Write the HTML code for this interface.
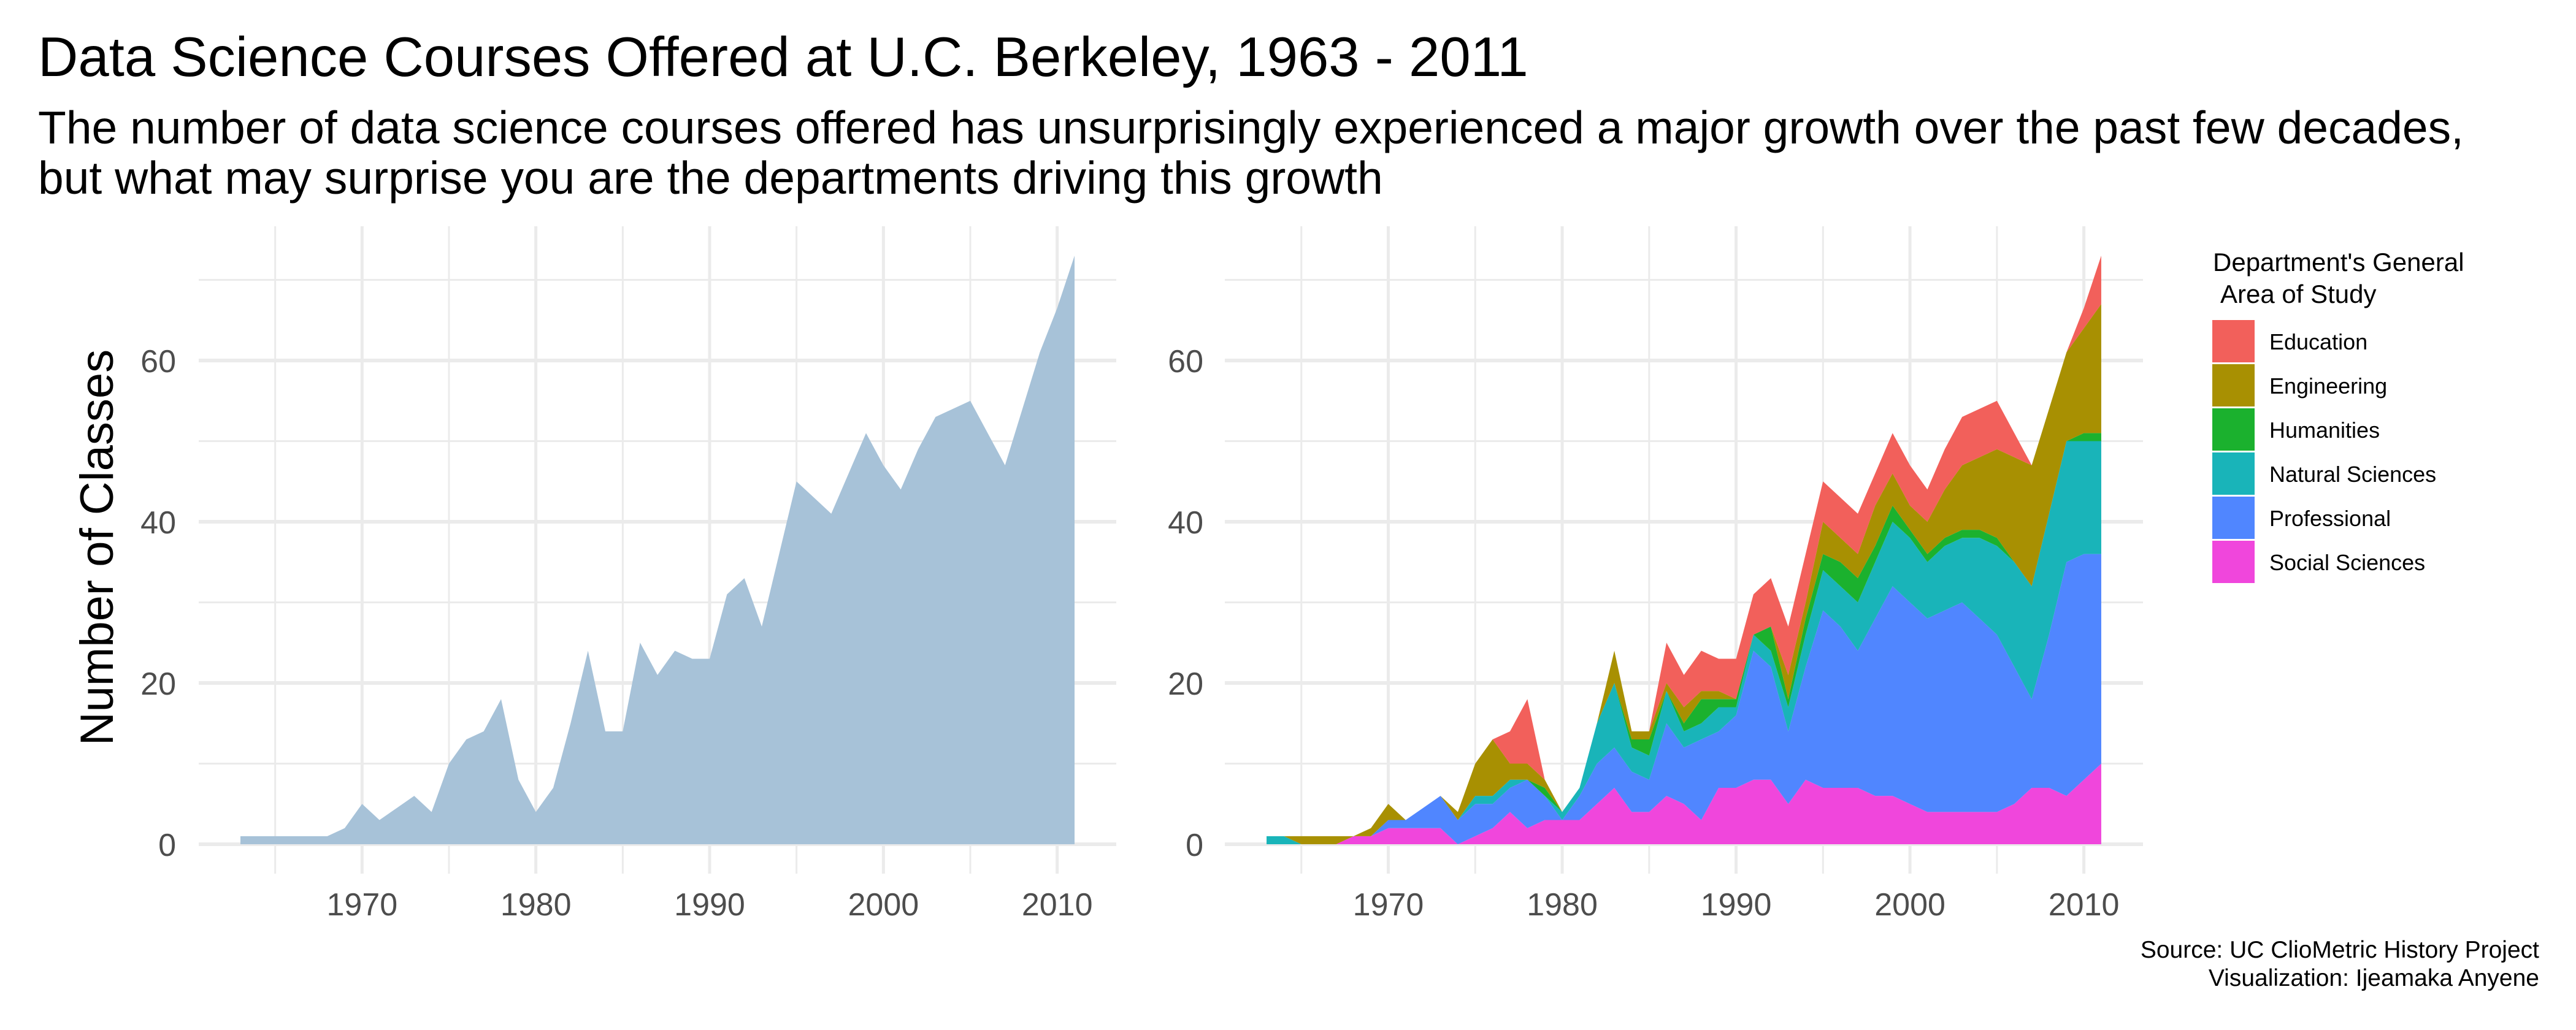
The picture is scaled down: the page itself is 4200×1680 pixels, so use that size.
<!DOCTYPE html>
<html><head><meta charset="utf-8"><style>
html,body{margin:0;padding:0;background:#fff;}
svg{display:block;font-family:"Liberation Sans",Arial,sans-serif;}
</style></head><body>
<svg id="chart" width="4200" height="1680" viewBox="0 0 4200 1680">
<text x="62" y="124" font-size="90.5" fill="#000">Data Science Courses Offered at U.C. Berkeley, 1963 - 2011</text>
<text x="62" y="234" font-size="75" fill="#000">The number of data science courses offered has unsurprisingly experienced a major growth over the past few decades,</text>
<text x="62" y="316" font-size="75" fill="#000">but what may surprise you are the departments driving this growth</text>
<g id="left"></g>
<g id="right"></g>
<text transform="translate(184,893) rotate(-90)" text-anchor="middle" font-size="76" fill="#000">Number of Classes</text>
<g id="legend">
<text x="3608" y="442" font-size="42" fill="#000">Department's General</text>
<text x="3620" y="494" font-size="42" fill="#000">Area of Study</text>
</g>
<text x="4140" y="1562" text-anchor="end" font-size="39" fill="#000">Source: UC ClioMetric History Project</text>
<text x="4140" y="1608" text-anchor="end" font-size="39" fill="#000">Visualization: Ijeamaka Anyene</text>
</svg>
<script>
const years = [1963,1964,1965,1966,1967,1968,1969,1970,1971,1972,1973,1974,1975,1976,1977,1978,1979,1980,1981,1982,1983,1984,1985,1986,1987,1988,1989,1990,1991,1992,1993,1994,1995,1996,1997,1998,1999,2000,2001,2002,2003,2004,2005,2006,2007,2008,2009,2010,2011];
const totals = [1,1,1,1,1,1,2,5,3,4.5,6,4,10,13,14,18,8,4,7,15,24,14,14,25,21,24,23,23,31,33,27,36,45,43,41,46,51,47,44,49,53,54,55,51,47,54,61,66.5,73];
const socialSciences = [0,0,0,0,0,1,1,2,2,2,2,0,1,2,4,2,3,3,3,5,7,4,4,6,5,3,7,7,8,8,5,8,7,7,7,6,6,5,4,4,4,4,4,5,7,7,6,8,10];
const professional   = [0,0,0,0,0,0,0,1,1,2.5,4,3,4,3,3,6,3,0,3,5,5,5,4,9,7,10,7,9,16,14,9,14,22,20,17,22,26,25,24,25,26,24,22,17,11,19,29,28,26];
const naturalSciences= [1,1,0,0,0,0,0,0,0,0,0,0,1,1,1,0,0,1,1,5,8,3,3,4,2,2,3,1,2,2,3,4,5,5,6,7,8,8,7,8,8,10,11,13,14,15,15,14,14];
const humanities     = [0,0,0,0,0,0,0,0,0,0,0,0,0,0,0,0,1,0,0,0,0,1,2,0,1,3,1,1,0,3,1,2,2,3,3,2,2,1,1,1,1,1,1,0,0,0,0,1,1];
const engineering    = [0,0,1,1,1,0,1,2,0,0,0,1,4,7,2,2,1,0,0,0,4,1,1,1,2,1,1,0,0,0,3,2,4,3,3,5,4,3,4,6,8,9,11,13,15,13,11,13,16];
const education      = [0,0,0,0,0,0,0,0,0,0,0,0,0,0,4,8,0,0,0,0,0,0,0,5,4,5,4,5,5,6,6,6,5,5,5,4,5,5,4,5,6,6,6,3,0,0,0,2.5,6];
const seriesNames = ["Social Sciences","Professional","Natural Sciences","Humanities","Engineering","Education"];
const seriesColors = ["#F046DC","#5086FF","#19B4B9","#1BB12E","#A89002","#F2605B"];
const yTicks = [0,20,40,60];
const yMinor = [10,30,50,70];
const xTicks = [1970,1980,1990,2000,2010];
const xMinor = [1965,1975,1985,1995,2005];
const legendOrder = ["Education","Engineering","Humanities","Natural Sciences","Professional","Social Sciences"];

const NS="http://www.w3.org/2000/svg";
const yMin=-3.65, yMax=76.65, xMin=1960.6, xMax=2013.4;
const pTop=369, pBot=1425;
function yS(v){return pBot-(v-yMin)/(yMax-yMin)*(pBot-pTop);}
function mk(tag,attrs,parent){const e=document.createElementNS(NS,tag);for(const k in attrs)e.setAttribute(k,attrs[k]);parent.appendChild(e);return e;}

function panel(g,x0,x1,showY,yLabX){
  const xS=y=>x0+(y-xMin)/(xMax-xMin)*(x1-x0);
  yMinor.forEach(v=>{const l=mk('line',{x1:x0,x2:x1,y1:yS(v),y2:yS(v),stroke:'#ebebeb','stroke-width':3},g);
    
    });
  xMinor.forEach(v=>{const l=mk('line',{x1:xS(v),x2:xS(v),y1:pTop,y2:pBot,stroke:'#ebebeb','stroke-width':3},g);
    
    });
  yTicks.forEach(v=>{const l=mk('line',{x1:x0,x2:x1,y1:yS(v),y2:yS(v),stroke:'#ebebeb','stroke-width':6},g);
    
    
    const t=mk('text',{x:yLabX,y:yS(v)+19,'text-anchor':'end','font-size':52,fill:'#4d4d4d'},g);t.textContent=v;
    
    });
  xTicks.forEach(v=>{const l=mk('line',{x1:xS(v),x2:xS(v),y1:pTop,y2:pBot,stroke:'#ebebeb','stroke-width':5},g);
    
    
    const t=mk('text',{x:xS(v),y:1493,'text-anchor':'middle','font-size':52,fill:'#4d4d4d'},g);t.textContent=v;
    
    });
  return xS;
}
const L=document.getElementById('left'), R=document.getElementById('right');
const xL=panel(L,324,1820,true,287);
let d='M'+xL(years[0])+','+yS(0);
years.forEach((y,i)=>{d+=' L'+xL(y)+','+yS(totals[i]);});
d+=' L'+xL(years[years.length-1])+','+yS(0)+' Z';
const a=mk('path',{d:d,fill:'#A7C2D8'},L);



const xR=panel(R,1997,3494,true,1962);
const layers=[socialSciences,professional,naturalSciences,humanities,engineering,education];
let base=years.map(()=>0);
layers.forEach((arr,k)=>{
  const top=base.map((b,i)=>b+arr[i]);
  let p='';
  years.forEach((y,i)=>{p+=(i?' L':'M')+xR(y)+','+yS(top[i]);});
  for(let i=years.length-1;i>=0;i--)p+=' L'+xR(years[i])+','+yS(base[i]);
  p+=' Z';
  const e=mk('path',{d:p,fill:seriesColors[k]},R);
  
  
  base=top;
});

const Lg=document.getElementById('legend');
legendOrder.forEach((n,i)=>{
  const k=seriesNames.indexOf(n);
  const r=mk('rect',{x:3606,y:521+i*72,width:71,height:71,fill:seriesColors[k],stroke:'#fff','stroke-width':2},Lg);
  
  
  const t=mk('text',{x:3700,y:570+i*72,'font-size':36,fill:'#000'},Lg);t.textContent=n;
  
  
});
</script>
</body></html>
